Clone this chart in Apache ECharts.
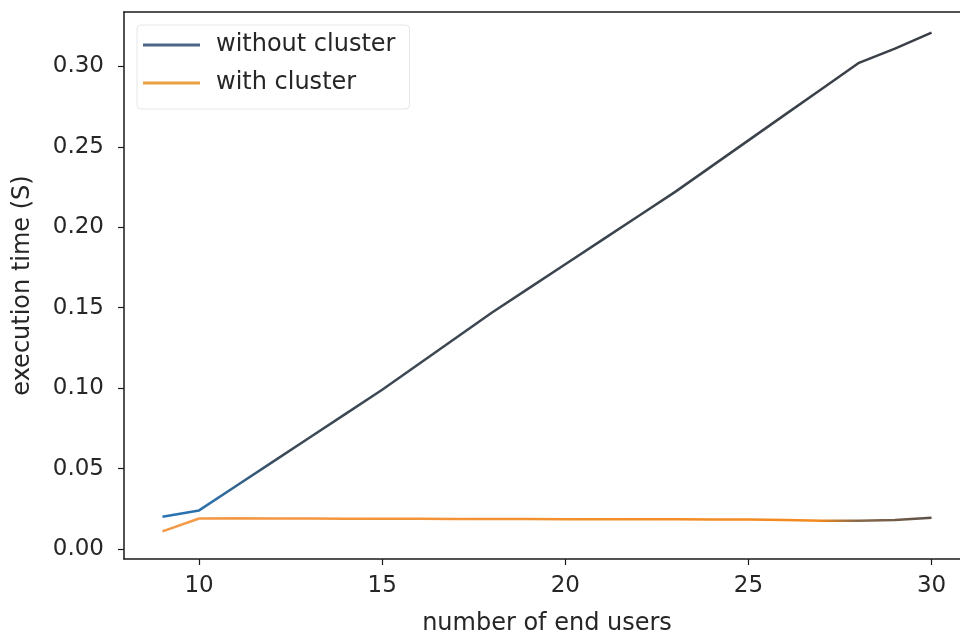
<!DOCTYPE html>
<html>
<head>
<meta charset="utf-8">
<script src="https://cdn.jsdelivr.net/npm/echarts@6/dist/echarts.min.js"></script>
<style>
  html, body { margin: 0; padding: 0; background: #ffffff; overflow: hidden; }
  #chart { width: 960px; height: 635px; }
</style>
</head>
<body>
<div id="chart"></div>
<script>
// Number of end users on the x axis
const users = [9, 10, 11, 12, 13, 14, 15, 16, 17, 18, 19, 20, 21, 22, 23, 24, 25, 26, 27, 28, 29, 30];

// Execution time in seconds
const withoutCluster = [0.020, 0.024, 0.039, 0.054, 0.069, 0.084, 0.099, 0.115, 0.131, 0.147, 0.162,
  0.177, 0.192, 0.207, 0.222, 0.238, 0.254, 0.270, 0.286, 0.302, 0.311, 0.321];
const withCluster = [0.011, 0.019, 0.0192, 0.019, 0.019, 0.0188, 0.0188, 0.0188, 0.0186, 0.0186, 0.0186,
  0.0185, 0.0185, 0.0185, 0.0185, 0.0184, 0.0183, 0.0181, 0.0176, 0.0175, 0.018, 0.0195];

const xTicks = [10, 15, 20, 25, 30];
const yTicks = [0, 0.05, 0.10, 0.15, 0.20, 0.25, 0.30];

const FONT = 'DejaVu Sans';
const INK = '#262626';
const SPINE = { color: '#1a1a1a', width: 1.5 };

const pairs = (xs, ys) => xs.map((x, i) => [x, ys[i]]);

const chart = echarts.init(document.getElementById('chart'), null, { renderer: 'canvas' });

chart.setOption({
  backgroundColor: '#ffffff',
  animation: false,
  grid: {
    left: 124, top: 12, width: 846, height: 547,
    outerBoundsMode: 'none',
    containLabel: false
  },
  legend: {
    orient: 'vertical',
    left: 137, top: 25,
    padding: [8, 14, 14, 6],
    itemGap: 14,
    itemWidth: 57, itemHeight: 3,
    icon: 'rect',
    borderColor: '#e6e6e6', borderWidth: 1, borderRadius: 4,
    textStyle: { fontFamily: FONT, fontSize: 24, color: INK, padding: [0, 0, 0, 11], lineHeight: 24 },
    data: [
      { name: 'without cluster', itemStyle: { color: '#4a6785' } },
      { name: 'with cluster', itemStyle: { color: '#e9a040' } }
    ]
  },
  xAxis: [
    {
      type: 'value',
      min: 7.95, max: 31.05,
      name: 'number of end users',
      nameLocation: 'middle',
      nameGap: 53,
      nameTextStyle: { fontFamily: FONT, fontSize: 24, color: INK },
      axisLine: { show: true, onZero: false, lineStyle: SPINE },
      axisTick: { show: true, length: 6, customValues: xTicks, lineStyle: { color: '#1a1a1a', width: 1.2 } },
      axisLabel: {
        customValues: xTicks, margin: 16,
        fontFamily: FONT, fontSize: 23, color: INK
      },
      splitLine: { show: false }
    },
    {
      // top spine only
      type: 'value',
      position: 'top',
      min: 7.95, max: 31.05,
      axisLine: { show: true, onZero: false, lineStyle: SPINE },
      axisTick: { show: false },
      axisLabel: { show: false },
      splitLine: { show: false }
    }
  ],
  yAxis: {
    type: 'value',
    min: -0.0062, max: 0.3338,
    name: 'execution time (S)',
    nameLocation: 'middle',
    nameGap: 89,
    nameRotate: 90,
    nameTextStyle: { fontFamily: FONT, fontSize: 24, color: INK },
    axisLine: { show: true, onZero: false, lineStyle: SPINE },
    axisTick: { show: true, length: 6, customValues: yTicks, lineStyle: { color: '#1a1a1a', width: 1.2 } },
    axisLabel: {
      customValues: yTicks, margin: 20,
      fontFamily: FONT, fontSize: 23, color: INK,
      formatter: v => v.toFixed(2)
    },
    splitLine: { show: false }
  },
  series: [
    {
      name: 'without cluster',
      type: 'line',
      xAxisIndex: 0,
      data: pairs(users, withoutCluster),
      showSymbol: false,
      itemStyle: { color: '#4a6785' },
      lineStyle: {
        width: 2.5,
        color: new echarts.graphic.LinearGradient(0, 0, 1, 0, [
          { offset: 0, color: '#2a74b4' },
          { offset: 0.07, color: '#2d6fa8' },
          { offset: 0.16, color: '#3d4a56' },
          { offset: 1, color: '#3a3f46' }
        ])
      }
    },
    {
      name: 'with cluster',
      type: 'line',
      xAxisIndex: 0,
      data: pairs(users, withCluster),
      showSymbol: false,
      itemStyle: { color: '#e9a040' },
      lineStyle: {
        width: 2.5,
        color: new echarts.graphic.LinearGradient(0, 0, 1, 0, [
          { offset: 0, color: '#f39a4a' },
          { offset: 0.85, color: '#f28a1e' },
          { offset: 0.9, color: '#8a6a4a' },
          { offset: 1, color: '#5a5048' }
        ])
      }
    }
  ]
});
</script>
</body>
</html>
